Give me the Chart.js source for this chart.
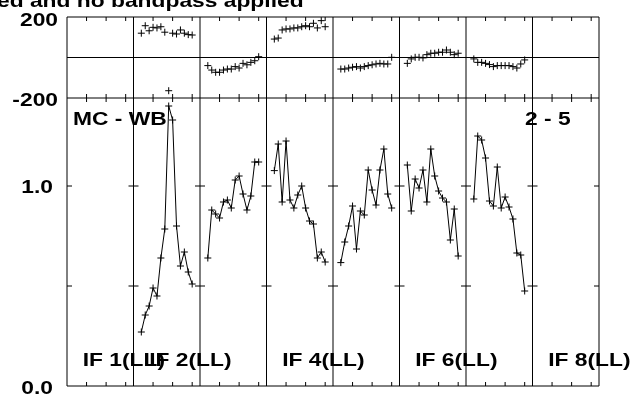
<!DOCTYPE html>
<html>
<head>
<meta charset="utf-8">
<script src="https://cdn.jsdelivr.net/npm/chart.js@4"></script>
<style>
html, body { margin: 0; padding: 0; background: #fff; }
</style>
</head>
<body>
<canvas id="myChart" width="636" height="395"></canvas>
<script>
// channels that carry data in every IF (1..16, edges flagged)
const channels = [2, 3, 4, 5, 6, 7, 8, 9, 10, 11, 12, 13, 14, 15];
const chanPerIF = 17;   // 16 channels + one channel of padding in each box
const nIF = 8;
const tickChannels = [5, 10, 15];
const ifShown = [1, 2, 4, 6, 8];

// amplitude per IF (IF 1 and IF 8 are empty)
const ampIF2 = [0.27, 0.355, 0.40, 0.49, 0.45, 0.64, 0.785, 1.40, 1.33, 0.80, 0.60, 0.67, 0.57, 0.51];
const ampIF3 = [0.64, 0.88, 0.86, 0.84, 0.92, 0.93, 0.89, 1.03, 1.05, 0.96, 0.88, 0.95, 1.12, 1.12];
const ampIF4 = [1.077, 1.21, 0.92, 1.225, 0.93, 0.89, 0.955, 1.00, 0.89, 0.825, 0.81, 0.64, 0.67, 0.62];
const ampIF5 = [0.617, 0.72, 0.80, 0.90, 0.685, 0.875, 0.855, 1.08, 0.98, 0.905, 1.08, 1.185, 0.96, 0.89];
const ampIF6 = [1.105, 0.875, 1.035, 0.99, 1.08, 0.92, 1.185, 1.05, 0.975, 0.94, 0.92, 0.73, 0.885, 0.65];
const ampIF7 = [0.935, 1.25, 1.23, 1.14, 0.925, 0.90, 1.095, 0.89, 0.945, 0.895, 0.835, 0.665, 0.655, 0.475];

// phase in degrees per IF
const phIF2 = [120, 157, 132, 149, 146, 152, 125, -164, 120, 116, 136, 120, 113, 111];
const phIF3 = [-40, -62, -73, -73, -62, -57, -57, -45, -52, -29, -36, -24, -16, 4];
const phIF4 = [91, 96, 136, 141, 141, 146, 146, 152, 157, 152, 169, 146, 182, 152];
const phIF5 = [-57, -57, -52, -48, -45, -52, -45, -40, -36, -32, -29, -32, -32, 1];
const phIF6 = [-29, -7, 1, 1, -2, 14, 21, 21, 26, 26, 37, 26, 14, 21];
const phIF7 = [-7, -24, -24, -29, -35, -45, -40, -40, -40, -40, -45, -52, -32, -12];

const ampByIF = { 2: ampIF2, 3: ampIF3, 4: ampIF4, 5: ampIF5, 6: ampIF6, 7: ampIF7 };
const phByIF = { 2: phIF2, 3: phIF3, 4: phIF4, 5: phIF5, 6: phIF6, 7: phIF7 };

function toPoints(ifNum, values) {
    return values.map(function (v, i) {
        return { x: (ifNum - 1) * chanPerIF + channels[i], y: v };
    });
}

const datasets = [];
for (const k in ampByIF) {
    datasets.push({
        data: toPoints(+k, ampByIF[k]),
        yAxisID: 'yAmp',
        borderColor: '#000',
        borderWidth: 1,
        pointStyle: 'cross',
        pointRadius: 3.5,
        pointBorderWidth: 1,
        showLine: true,
        tension: 0
    });
}
for (const k in phByIF) {
    datasets.push({
        data: toPoints(+k, phByIF[k]),
        yAxisID: 'yPh',
        borderColor: '#000',
        pointStyle: 'cross',
        pointRadius: 3.5,
        pointBorderWidth: 1,
        showLine: false
    });
}

const FONT = 'bold 19px "Liberation Sans", Arial, sans-serif';
function label(ctx, text, x, y, align) {
    ctx.save();
    ctx.font = FONT;
    ctx.fillStyle = '#000';
    ctx.textBaseline = 'alphabetic';
    ctx.translate(x, y);
    ctx.scale(1.2, 1);
    ctx.textAlign = align || 'left';
    ctx.fillText(text, 0, 0);
    ctx.restore();
}

function seg(ctx, x1, y1, x2, y2) {
    ctx.beginPath();
    ctx.moveTo(x1, y1);
    ctx.lineTo(x2, y2);
    ctx.stroke();
}

const frame = {
    id: 'frame',
    afterDatasetsDraw(chart) {
        const ctx = chart.ctx;
        const x = chart.scales.x, ph = chart.scales.yPh, amp = chart.scales.yAmp;
        const left = x.getPixelForValue(0), right = x.getPixelForValue(nIF * chanPerIF);
        const top = ph.top, mid = ph.bottom, bottom = amp.bottom;
        ctx.save();
        ctx.strokeStyle = '#000';
        ctx.lineWidth = 1;
        // box lines and IF separators
        seg(ctx, left, top, right, top);
        seg(ctx, left, mid, right, mid);
        seg(ctx, left, bottom, right, bottom);
        const zero = ph.getPixelForValue(0);
        seg(ctx, left, zero, right, zero);
        for (let k = 0; k <= nIF; k++) {
            const bx = x.getPixelForValue(k * chanPerIF);
            seg(ctx, bx, top, bx, bottom);
            // amplitude ticks at each separator
            [0.5, 1.0].forEach(function (v) {
                const py = amp.getPixelForValue(v);
                seg(ctx, k === 0 ? bx : bx - 5, py, k === nIF ? bx : bx + 5, py);
            });
            if (k === nIF) continue;
            tickChannels.forEach(function (c) {
                const px = x.getPixelForValue(k * chanPerIF + c);
                seg(ctx, px, top, px, top + 4);
                seg(ctx, px, mid - 4, px, mid + 4);
                seg(ctx, px, bottom - 4, px, bottom);
            });
        }
        ctx.restore();

        // texts
        label(ctx, 'ed and no bandpass applied', -3, 7);
        label(ctx, '200', 58, 26, 'right');
        label(ctx, '-200', 58, 106, 'right');
        label(ctx, '1.0', 53, 193, 'right');
        label(ctx, '0.0', 53, 394, 'right');
        label(ctx, 'MC - WB', 73, 125);
        label(ctx, '2 - 5', 525, 125);
        ifShown.forEach(function (n) {
            label(ctx, 'IF ' + n + '(LL)', x.getPixelForValue((n - 1) * chanPerIF) + 15.7, 366);
        });
    }
};

new Chart(document.getElementById('myChart'), {
    type: 'scatter',
    data: { datasets: datasets },
    options: {
        responsive: false,
        animation: false,
        layout: { padding: { top: 17, right: 37, bottom: 9, left: 0 } },
        plugins: { legend: { display: false }, tooltip: { enabled: false } },
        scales: {
            x: { type: 'linear', min: 0, max: nIF * chanPerIF, display: false },
            yAmp: {
                type: 'linear', position: 'left', stack: 'panels', stackWeight: 288,
                min: 0, max: 1.44,
                grid: { display: false }, border: { display: false }, ticks: { display: false },
                afterFit(s) { s.width = 67; }
            },
            yPh: {
                type: 'linear', position: 'left', stack: 'panels', stackWeight: 81,
                min: -200, max: 200,
                grid: { display: false }, border: { display: false }, ticks: { display: false },
                afterFit(s) { s.width = 67; }
            }
        }
    },
    plugins: [frame]
});
</script>
</body>
</html>
